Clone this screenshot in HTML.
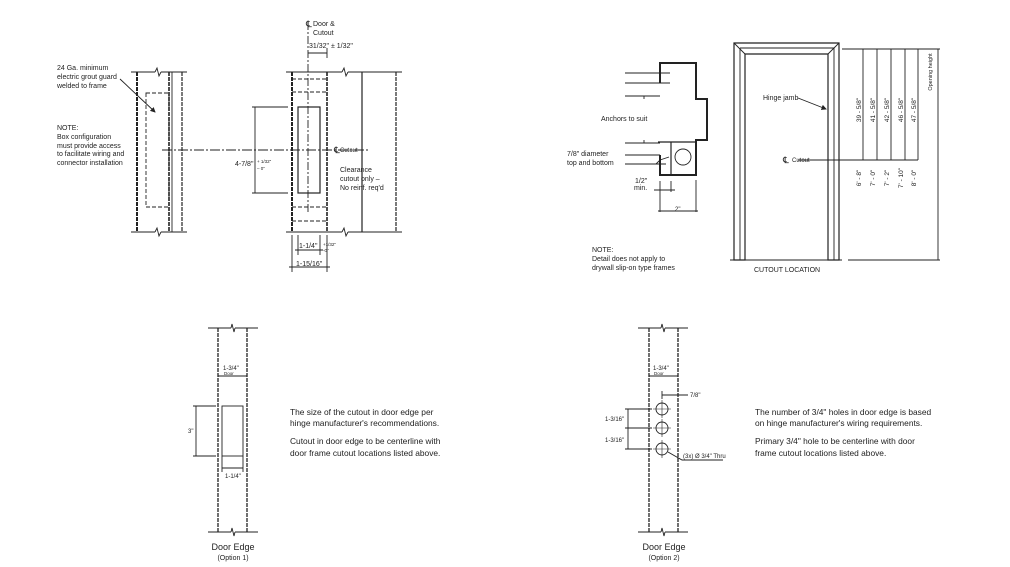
<!DOCTYPE html>
<html><head><meta charset="utf-8"><style>
html,body{margin:0;padding:0;background:#fff}
svg{display:block}
text{font-family:"Liberation Sans",sans-serif;fill:#222}
</style></head><body>
<svg width="1010" height="567" viewBox="0 0 1010 567" xmlns="http://www.w3.org/2000/svg">
<defs>
<marker id="ar" markerWidth="6" markerHeight="6" refX="5" refY="3" orient="auto"><path d="M0,0 L6,3 L0,6 z" fill="#222"/></marker>
</defs>
<g stroke="#222" fill="none" stroke-width="0.9">
<line x1="131" y1="72" x2="155" y2="72"/><line x1="161" y1="72" x2="187" y2="72"/>
<path d="M155,72 L157,68 L159,76 L161,72"/>
<line x1="131" y1="232" x2="155" y2="232"/><line x1="161" y1="232" x2="187" y2="232"/>
<path d="M155,232 L157,228 L159,236 L161,232"/>
<line x1="137" y1="72" x2="137" y2="232" stroke-width="2" stroke-dasharray="4,1"/>
<line x1="169" y1="72" x2="169" y2="232" stroke-width="1.6" stroke-dasharray="4,1"/>
<line x1="172" y1="72" x2="172" y2="232"/>
<line x1="182" y1="72" x2="182" y2="232" stroke-dasharray="4,1" stroke-width="1.2"/>
<rect x="146" y="93" width="23" height="114" stroke-dasharray="4,2"/>
<line x1="120" y1="79" x2="155" y2="112" marker-end="url(#ar)"/>
<line x1="162" y1="150" x2="370" y2="150" stroke-dasharray="10,2,2,2"/>
<line x1="286" y1="72" x2="342" y2="72"/><line x1="348" y1="72" x2="402" y2="72"/>
<path d="M342,72 L344,68 L346,76 L348,72"/>
<line x1="286" y1="232" x2="342" y2="232"/><line x1="348" y1="232" x2="402" y2="232"/>
<path d="M342,232 L344,228 L346,236 L348,232"/>
<line x1="292" y1="72" x2="292" y2="232" stroke-width="2" stroke-dasharray="4,1"/>
<line x1="327" y1="72" x2="327" y2="232" stroke-width="1.6" stroke-dasharray="4,1"/>
<line x1="362" y1="72" x2="362" y2="232" stroke-width="1.2"/>
<line x1="396" y1="72" x2="396" y2="232" stroke-width="1.2" stroke-dasharray="4,1"/>
<g stroke-dasharray="4,2"><line x1="292" y1="79" x2="327" y2="79"/><line x1="292" y1="92" x2="327" y2="92"/><line x1="292" y1="207" x2="327" y2="207"/><line x1="292" y1="221" x2="327" y2="221"/></g>
<rect x="298" y="107" width="22" height="86" stroke-width="1.2"/>
<line x1="308" y1="22" x2="308" y2="214" stroke-dasharray="8,2,2,2"/>
<line x1="308" y1="53" x2="327" y2="53"/><line x1="327" y1="48" x2="327" y2="58"/>
<line x1="255" y1="107" x2="255" y2="193"/><line x1="252" y1="107" x2="288" y2="107"/><line x1="252" y1="193" x2="288" y2="193"/>
<line x1="298" y1="235" x2="298" y2="255"/><line x1="320" y1="235" x2="320" y2="255"/>
<line x1="295" y1="250" x2="323" y2="250"/>
<line x1="292" y1="235" x2="292" y2="272"/><line x1="327" y1="235" x2="327" y2="272"/>
<line x1="289" y1="267" x2="330" y2="267"/>
<path d="M660,83 L660,63 L696,63 L696,99 L707,99 L707,140 L696,140 L696,175 L660,175 L660,155" stroke-width="2"/>
<path d="M671,142 L671,175" stroke-width="1.2"/>
<path d="M658,142 L696,142" stroke-width="1.2"/>
<line x1="625" y1="73" x2="670" y2="73"/><line x1="625" y1="83" x2="670" y2="83"/><line x1="625" y1="96" x2="660" y2="96"/>
<line x1="644" y1="96" x2="644" y2="99"/>
<line x1="625" y1="143" x2="660" y2="143"/><line x1="644" y1="140" x2="644" y2="143"/>
<line x1="625" y1="155" x2="660" y2="155"/><line x1="625" y1="164" x2="666" y2="164"/>
<path d="M656,164 L660,160 L669,157"/>
<circle cx="683" cy="157" r="8"/>
<line x1="660" y1="181" x2="660" y2="212"/><line x1="671" y1="181" x2="671" y2="192"/><line x1="696" y1="180" x2="696" y2="212"/>
<line x1="654" y1="190" x2="675" y2="190"/><line x1="658" y1="211" x2="698" y2="211"/>
<path d="M734,260 L734,43 L839,43 L839,260 L828,260 L828,54 L745,54 L745,260 Z" stroke-width="1.2"/>
<line x1="740" y1="48" x2="740" y2="260"/><line x1="734" y1="43" x2="745" y2="54"/><line x1="839" y1="43" x2="828" y2="54"/>
<line x1="740" y1="48" x2="834" y2="48"/><line x1="834" y1="48" x2="834" y2="260"/>
<line x1="730" y1="260" x2="842" y2="260"/>
<line x1="842" y1="49" x2="940" y2="49"/><line x1="848" y1="260" x2="940" y2="260"/>
<line x1="798" y1="160" x2="918" y2="160"/>
<line x1="863" y1="49" x2="863" y2="160"/><line x1="877" y1="49" x2="877" y2="160"/><line x1="891" y1="49" x2="891" y2="160"/><line x1="905" y1="49" x2="905" y2="160"/><line x1="918" y1="49" x2="918" y2="160"/>
<line x1="938" y1="49" x2="938" y2="260"/>
<line x1="798" y1="98" x2="826" y2="109" marker-end="url(#ar)"/>
<line x1="208" y1="328" x2="231" y2="328"/><line x1="235" y1="328" x2="258" y2="328"/><path d="M231,328 L232,324 L234,332 L235,328"/>
<line x1="208" y1="532" x2="231" y2="532"/><line x1="235" y1="532" x2="258" y2="532"/><path d="M231,532 L232,528 L234,536 L235,532"/>
<line x1="218" y1="328" x2="218" y2="532" stroke-width="1.3" stroke-dasharray="4,1"/>
<line x1="247" y1="328" x2="247" y2="532" stroke-width="1.3" stroke-dasharray="4,1"/>
<line x1="218" y1="376" x2="247" y2="376"/>
<rect x="222" y="406" width="21" height="50"/>
<line x1="193" y1="406" x2="216" y2="406"/><line x1="193" y1="456" x2="216" y2="456"/><line x1="196" y1="406" x2="196" y2="456"/>
<line x1="222" y1="456" x2="222" y2="472"/><line x1="243" y1="456" x2="243" y2="472"/><line x1="222" y1="468" x2="243" y2="468"/>
<line x1="638" y1="328" x2="661" y2="328"/><line x1="665" y1="328" x2="688" y2="328"/><path d="M661,328 L662,324 L664,332 L665,328"/>
<line x1="638" y1="532" x2="661" y2="532"/><line x1="665" y1="532" x2="688" y2="532"/><path d="M661,532 L662,528 L664,536 L665,532"/>
<line x1="649" y1="328" x2="649" y2="532" stroke-width="1.3" stroke-dasharray="4,1"/>
<line x1="678" y1="328" x2="678" y2="532" stroke-width="1.3" stroke-dasharray="4,1"/>
<line x1="649" y1="376" x2="678" y2="376"/>
<circle cx="662" cy="409" r="6"/><circle cx="662" cy="428" r="6"/><circle cx="662" cy="449" r="6"/>
<g stroke-width="0.6"><line x1="653" y1="409" x2="671" y2="409"/><line x1="662" y1="400" x2="662" y2="418"/><line x1="653" y1="428" x2="671" y2="428"/><line x1="662" y1="419" x2="662" y2="437"/><line x1="653" y1="449" x2="671" y2="449"/><line x1="662" y1="440" x2="662" y2="458"/></g>
<line x1="662" y1="391" x2="662" y2="399"/><line x1="662" y1="395" x2="688" y2="395"/>
<line x1="625" y1="409" x2="652" y2="409"/><line x1="625" y1="428" x2="652" y2="428"/><line x1="625" y1="449" x2="652" y2="449"/>
<line x1="628" y1="409" x2="628" y2="449"/>
<path d="M668,452 L682,460 L723,460"/>
</g>
<g font-size="7">
<text x="57" y="70">24 Ga. minimum</text><text x="57" y="79">electric grout guard</text><text x="57" y="88">welded to frame</text>
<text x="57" y="130">NOTE:</text><text x="57" y="139">Box configuration</text><text x="57" y="148">must provide access</text><text x="57" y="156">to facilitate wiring and</text><text x="57" y="165">connector installation</text>
<text x="306" y="27" font-size="9">℄</text><text x="313" y="26">Door &amp;</text><text x="313" y="35">Cutout</text>
<text x="309" y="48">31/32"  ± 1/32"</text>
<text x="334" y="153" font-size="9">℄</text><text x="340" y="152" font-size="6">Cutout</text>
<text x="340" y="172">Clearance</text><text x="340" y="181">cutout only –</text><text x="340" y="190">No reinf. req'd</text>
<text x="235" y="166">4-7/8"</text><text x="257" y="163" font-size="4.5">+ 1/32"</text><text x="257" y="170" font-size="4.5">– 0"</text>
<text x="299" y="248">1-1/4"</text><text x="323" y="246" font-size="4.5">+1/32"</text><text x="323" y="252" font-size="4.5">-0"</text>
<text x="296" y="266">1-15/16"</text>
<text x="601" y="121">Anchors to suit</text>
<text x="567" y="156">7/8" diameter</text><text x="567" y="165">top and bottom</text>
<text x="635" y="183">1/2"</text><text x="634" y="190">min.</text>
<text x="675" y="211" font-size="6">2"</text>
<text x="592" y="252">NOTE:</text><text x="592" y="261">Detail does not apply to</text><text x="592" y="270">drywall slip-on type frames</text>
<text x="763" y="100">Hinge jamb</text>
<text x="783" y="163" font-size="9">℄</text><text x="792" y="162" font-size="6">Cutout</text>
<text x="754" y="272">CUTOUT LOCATION</text>
<g font-size="6.5">
<text transform="translate(861,110) rotate(-90)" text-anchor="middle">39 - 5/8"</text>
<text transform="translate(875,110) rotate(-90)" text-anchor="middle">41 - 5/8"</text>
<text transform="translate(889,110) rotate(-90)" text-anchor="middle">42 - 5/8"</text>
<text transform="translate(903,110) rotate(-90)" text-anchor="middle">46 - 5/8"</text>
<text transform="translate(916,110) rotate(-90)" text-anchor="middle">47 - 5/8"</text>
<text transform="translate(861,178) rotate(-90)" text-anchor="middle">6' - 8"</text>
<text transform="translate(875,178) rotate(-90)" text-anchor="middle">7' - 0"</text>
<text transform="translate(889,178) rotate(-90)" text-anchor="middle">7' - 2"</text>
<text transform="translate(903,178) rotate(-90)" text-anchor="middle">7' - 10"</text>
<text transform="translate(916,178) rotate(-90)" text-anchor="middle">8' - 0"</text>
<text transform="translate(932,72) rotate(-90)" text-anchor="middle" font-size="5.5">Opening height</text>
</g>
<text x="223" y="370" font-size="6">1-3/4"</text><text x="224" y="375" font-size="4.5">Door</text>
<text x="188" y="433" font-size="6">3"</text>
<text x="225" y="478" font-size="6">1-1/4"</text>
<g font-size="8.4">
<text x="290" y="415">The size of the cutout in door edge per</text><text x="290" y="426">hinge manufacturer's recommendations.</text>
<text x="290" y="444">Cutout in door edge to be centerline with</text><text x="290" y="456">door frame cutout locations listed above.</text>
<text x="755" y="415">The number of 3/4" holes in door edge is based</text><text x="755" y="426">on hinge manufacturer's wiring requirements.</text>
<text x="755" y="444">Primary 3/4" hole to be centerline with door</text><text x="755" y="456">frame cutout locations listed above.</text>
</g>
<text x="233" y="550" font-size="9" text-anchor="middle">Door Edge</text><text x="233" y="560" font-size="7" text-anchor="middle">(Option 1)</text>
<text x="653" y="370" font-size="6">1-3/4"</text><text x="654" y="375" font-size="4.5">Door</text>
<text x="690" y="397" font-size="6">7/8"</text>
<text x="605" y="421" font-size="6">1-3/16"</text><text x="605" y="442" font-size="6">1-3/16"</text>
<text x="683" y="458" font-size="6">(3x) Ø 3/4"  Thru</text>
<text x="664" y="550" font-size="9" text-anchor="middle">Door Edge</text><text x="664" y="560" font-size="7" text-anchor="middle">(Option 2)</text>
</g>
</svg>
</body></html>
